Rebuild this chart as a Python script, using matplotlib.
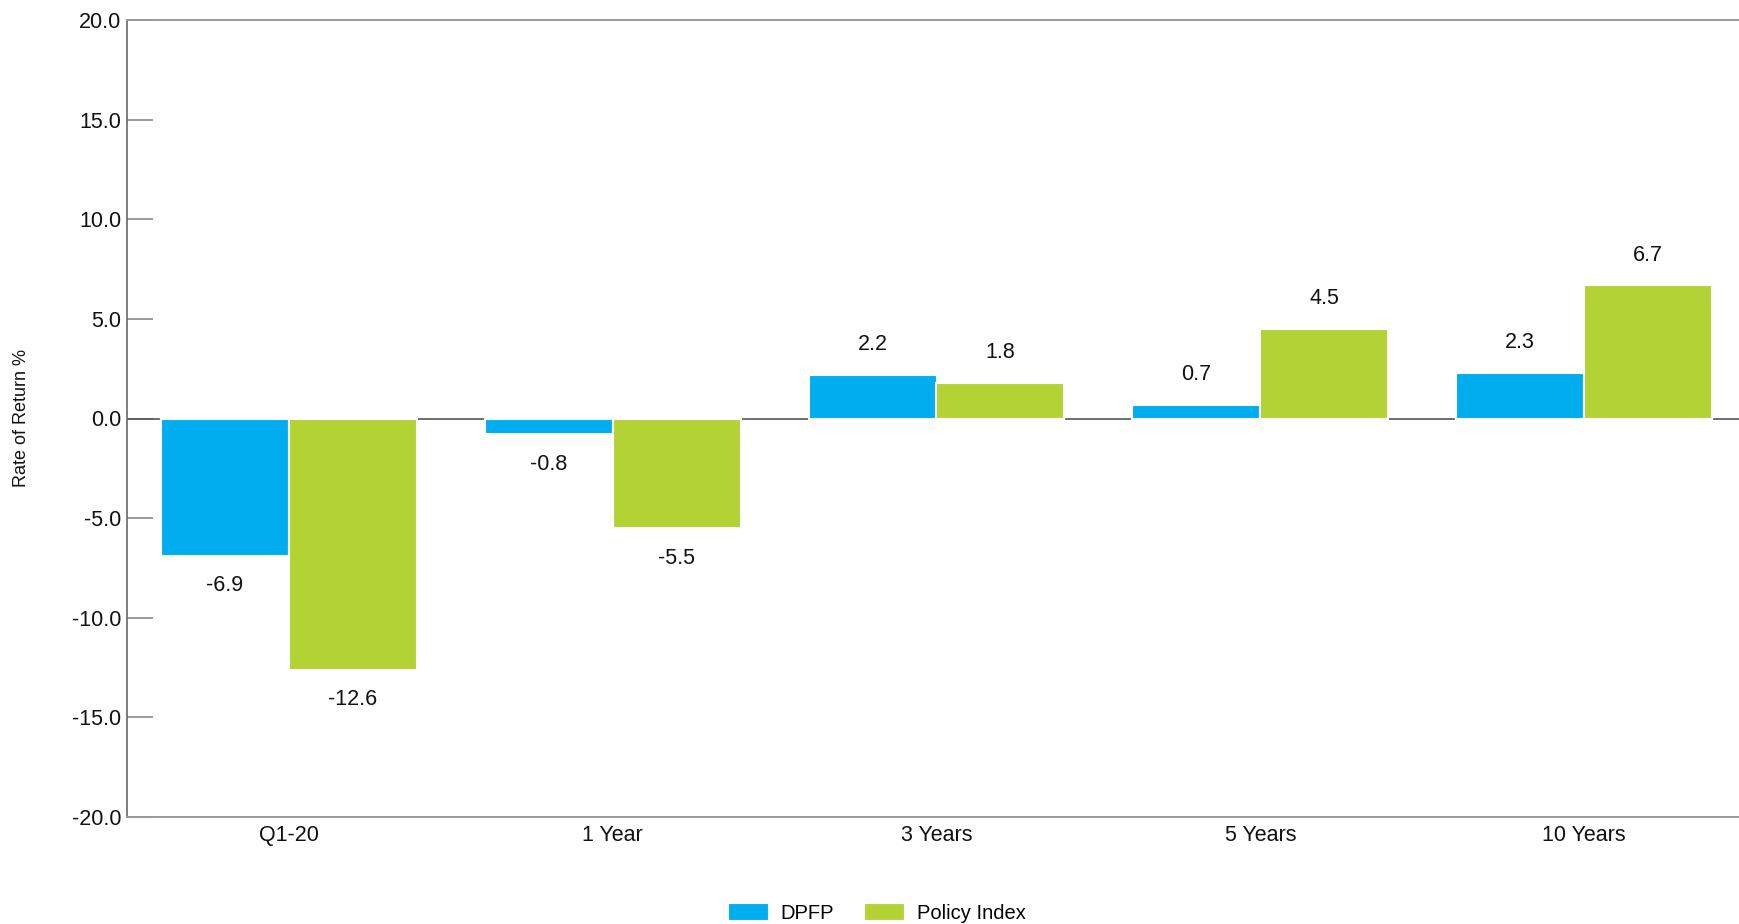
import numpy as np
import matplotlib.pyplot as plt

plt.rcParams['font.family'] = ['Liberation Sans', 'DejaVu Sans']

categories = ['Q1-20', '1 Year', '3 Years', '5 Years', '10 Years']
dpfp = [-6.9, -0.8, 2.2, 0.7, 2.3]
policy = [-12.6, -5.5, 1.8, 4.5, 6.7]
yticks = [-20, -15, -10, -5, 0, 5, 10, 15, 20]

blue = '#00AEEF'
green = '#B3D335'

fig = plt.figure(figsize=(17.39, 9.24), dpi=100)
ax = fig.add_axes([127 / 1739, 107 / 924, (1746 - 127) / 1739, 797 / 924])

x = np.arange(len(categories))
w = 0.395
b1 = ax.bar(x - w / 2, dpfp, w, color=blue, edgecolor='white', linewidth=1.5, label='DPFP', zorder=3)
b2 = ax.bar(x + w / 2, policy, w, color=green, edgecolor='white', linewidth=1.5, label='Policy Index', zorder=3)

ax.axhline(0, color='#555555', linewidth=1.2, zorder=2)

# value labels above / below bars
for bars, vals in [(b1, dpfp), (b2, policy)]:
    for rect, v in zip(bars, vals):
        cx = rect.get_x() + rect.get_width() / 2
        off = 14 if v >= 0 else -14
        ax.annotate(f'{v:.1f}', (cx, v), xytext=(0, off), textcoords='offset points',
                    ha='center', va='bottom' if v >= 0 else 'top', fontsize=15.5, color='#111111')

ax.set_xlim(-0.5, len(categories) - 0.5)
ax.set_ylim(-20, 20)
ax.set_yticks(yticks)
ax.set_yticklabels([f'{t:.1f}' for t in yticks])
ax.set_xticks(x)
ax.set_xticklabels(categories)

ax.tick_params(axis='y', direction='in', length=19, width=1.2, color='#888888',
               labelsize=15.5, pad=4, labelcolor='#111111')
ax.tick_params(axis='x', length=0, labelsize=15.5, pad=6, labelcolor='#111111')

for s in ['top', 'bottom', 'right']:
    ax.spines[s].set_color('#999999')
    ax.spines[s].set_linewidth(1.4)
ax.spines['left'].set_color('#666666')
ax.spines['left'].set_linewidth(1.2)

fig.text(22 / 1739, 1 - 418 / 924, 'Rate of Return %', rotation=90, ha='center', va='center',
         fontsize=13, color='#111111')

fig.legend(handles=[b1, b2], loc='center', bbox_to_anchor=(877 / 1739, 1 - 913 / 924),
           ncol=2, frameon=False, fontsize=14.5, handlelength=2.0, handleheight=1.0,
           columnspacing=1.5, handletextpad=0.6)

fig.savefig('out.png', dpi=100)
